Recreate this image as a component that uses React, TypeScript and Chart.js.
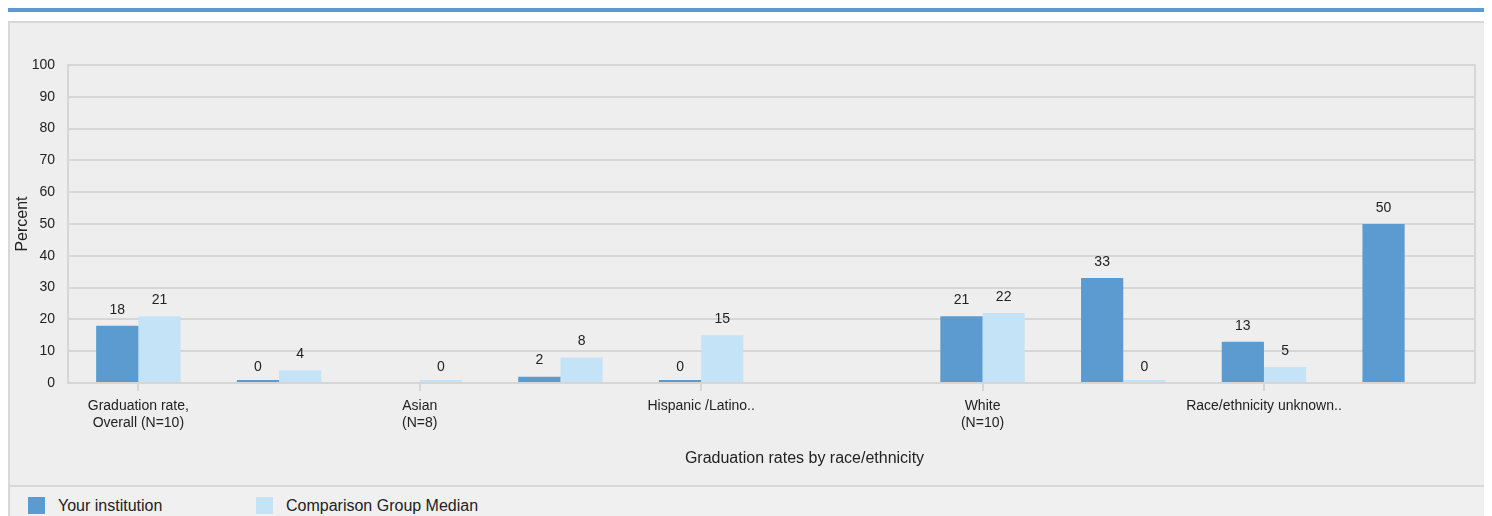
import React, { useEffect, useRef } from "react";
import { Chart, registerables } from "chart.js";

Chart.register(...registerables);

const categories = [
  "Graduation rate, Overall (N=10)",
  "American Indian or Alaska Native",
  "Asian (N=8)",
  "Black or African American",
  "Hispanic /Latino..",
  "Native Hawaiian or Other Pacific Islander",
  "White (N=10)",
  "Two or more races",
  "Race/ethnicity unknown..",
  "Nonresident alien",
];

const tickLabels: (string | string[])[] = [
  ["Graduation rate,", "Overall (N=10)"],
  "",
  ["Asian", "(N=8)"],
  "",
  "Hispanic /Latino..",
  "",
  ["White", "(N=10)"],
  "",
  "Race/ethnicity unknown..",
  "",
];

const yourInstitution = [18, 0, null, 2, 0, null, 21, 33, 13, 50];
const comparisonMedian = [21, 4, 0, 8, 15, null, 22, 0, 5, null];

const seriesNames = ["Your institution", "Comparison Group Median"];
const seriesColors = ["#5b9bd0", "#c5e3f6"];

const xTitle = "Graduation rates by race/ethnicity";
const yTitle = "Percent";

const FONT = "'Liberation Sans', Arial, sans-serif";
const GRID = "#d6d6d6";

const valueLabels = {
  id: "valueLabels",
  afterDatasetsDraw(chart: any) {
    const ctx = chart.ctx;
    const y = chart.scales.y;
    ctx.save();
    ctx.font = `14px ${FONT}`;
    ctx.fillStyle = "#222";
    ctx.textAlign = "center";
    ctx.textBaseline = "middle";
    chart.data.datasets.forEach((ds: any, i: number) => {
      const meta = chart.getDatasetMeta(i);
      meta.data.forEach((bar: any, j: number) => {
        const v = ds.data[j];
        if (v === null || v === undefined) return;
        ctx.fillText(String(v), bar.x, y.getPixelForValue(v) - 16);
      });
    });
    ctx.restore();
  },
};

const frameAndTitle = {
  id: "frameAndTitle",
  beforeDatasetsDraw(chart: any) {
    const { ctx, chartArea } = chart;
    ctx.save();
    ctx.strokeStyle = GRID;
    ctx.lineWidth = 2;
    ctx.beginPath();
    ctx.moveTo(chartArea.right, chartArea.top - 1);
    ctx.lineTo(chartArea.right, chartArea.bottom + 1);
    ctx.stroke();
    ctx.restore();
  },
  afterDraw(chart: any) {
    const { ctx, chartArea } = chart;
    const xs = chart.scales.x;
    ctx.save();
    ctx.font = `16px ${FONT}`;
    ctx.fillStyle = "#222";
    ctx.textAlign = "center";
    ctx.textBaseline = "middle";
    ctx.fillText(xTitle, (chartArea.left + chartArea.right) / 2 + 33, xs.bottom - 26);
    ctx.restore();
  },
};

export default function App() {
  const ref = useRef<HTMLCanvasElement>(null);

  useEffect(() => {
    document.body.style.overflow = "hidden";
    const chart = new Chart(ref.current as HTMLCanvasElement, {
      type: "bar",
      data: {
        labels: categories,
        datasets: [
          {
            label: seriesNames[0],
            data: yourInstitution,
            backgroundColor: seriesColors[0],
            minBarLength: 3,
          },
          {
            label: seriesNames[1],
            data: comparisonMedian,
            backgroundColor: seriesColors[1],
            minBarLength: 3,
          },
        ] as any,
      },
      plugins: [valueLabels, frameAndTitle],
      options: {
        animation: false,
        responsive: true,
        maintainAspectRatio: false,
        layout: { padding: { top: 42, right: 12, bottom: 0, left: 3 } },
        datasets: { bar: { categoryPercentage: 0.6, barPercentage: 1 } },
        plugins: {
          legend: { display: false },
          tooltip: { enabled: false },
        },
        scales: {
          x: {
            afterFit: (s: any) => {
              s.height = 102;
            },
            grid: {
              offset: false,
              drawOnChartArea: false,
              drawTicks: true,
              tickLength: 8,
              lineWidth: 2,
              tickColor: (c: any) => (c.index % 2 === 0 ? GRID : "rgba(0,0,0,0)"),
            },
            border: { display: true, color: GRID, width: 2 },
            ticks: {
              autoSkip: false,
              maxRotation: 0,
              padding: 7,
              color: "#222",
              font: { family: FONT, size: 14 },
              callback: (_v: any, i: number) => tickLabels[i],
            },
            title: { display: false },
          },
          y: {
            min: 0,
            max: 100,
            afterFit: (s: any) => {
              s.width = 55;
            },
            ticks: {
              stepSize: 10,
              padding: 13,
              color: "#222",
              font: { family: FONT, size: 14 },
            },
            grid: { color: GRID, lineWidth: 2, drawTicks: false },
            border: { display: true, color: GRID, width: 2 },
            title: {
              display: true,
              text: yTitle,
              color: "#222",
              font: { family: FONT, size: 16 },
              padding: 0,
            },
          },
        },
      } as any,
    });
    return () => chart.destroy();
  }, []);

  return (
    <div style={{ fontFamily: FONT }}>
      <div style={{ marginTop: -1, height: 5, width: 1484, background: "#5b9bd0" }} />
      <div
        style={{
          marginTop: 9,
          width: 1481,
          boxSizing: "border-box",
          border: "2px solid #d8d8d8",
          background: "#eeeeee",
        }}
      >
        <div style={{ position: "relative", height: 462 }}>
          <canvas ref={ref} />
        </div>
        <div
          style={{
            borderTop: "2px solid #d8d8d8",
            background: "#f0f0f0",
            height: 60,
            display: "flex",
            alignItems: "flex-start",
            paddingTop: 10,
            boxSizing: "border-box",
          }}
        >
          {seriesNames.map((n, i) => (
            <div
              key={n}
              style={{
                display: "flex",
                alignItems: "center",
                position: "absolute",
                left: i === 0 ? 28 : 256,
              }}
            >
              <div style={{ width: 17, height: 17, background: seriesColors[i] }} />
              <span style={{ marginLeft: 13, fontSize: 16, color: "#222", lineHeight: "17px" }}>{n}</span>
            </div>
          ))}
        </div>
      </div>
    </div>
  );
}
